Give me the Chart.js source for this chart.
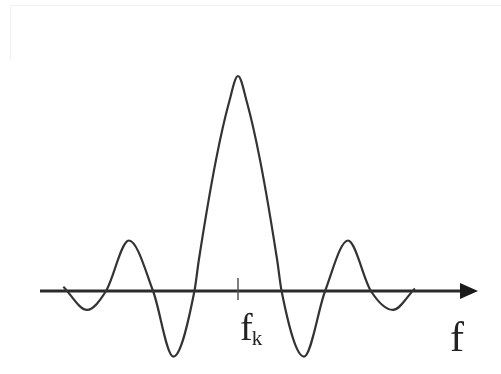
<!DOCTYPE html>
<html>
<head>
<meta charset="utf-8">
<style>
  html, body { margin: 0; padding: 0; background: #fff; }
  #wrap { width: 501px; height: 374px; position: relative; }
</style>
<script src="https://cdn.jsdelivr.net/npm/chart.js@4.4.1/dist/chart.umd.min.js"></script>
</head>
<body>
<div id="wrap"><canvas id="spectrum"></canvas></div>
<script>
// frequency offsets from f_k (in main-lobe half widths) and amplitude
const freqOffsets = [-3.97, -3.43, -3.0, -2.48, -1.93, -1.47, -0.99, -0.89, -0.5, -0.2, 0,
                     0.2, 0.5, 0.89, 0.99, 1.5, 1.98, 2.5, 3.02, 3.52, 4.02];
const amplitudes  = [0.02, -0.088, 0, 0.235, 0, -0.305, 0, 0.144, 0.61, 0.88, 1.0,
                     0.88, 0.61, 0.144, 0, -0.305, 0, 0.235, 0, -0.088, 0.012];
const centerLabel = 'f';
const centerSub = 'k';
const axisLabel = 'f';

// horizontal axis with arrow head, tick at f_k and labels
const axisPlugin = {
    id: 'axisArrow',
    beforeDatasetsDraw(chart) {
        const { ctx, scales: { x, y } } = chart;
        const y0 = y.getPixelForValue(0);
        const xc = x.getPixelForValue(0);
        ctx.save();
        // faint frame at the top/left
        ctx.strokeStyle = '#f1f1f1';
        ctx.lineWidth = 1;
        ctx.beginPath();
        ctx.moveTo(10.5, 60);
        ctx.lineTo(10.5, 5.5);
        ctx.lineTo(501, 5.5);
        ctx.stroke();

        ctx.strokeStyle = '#2a2a2a';
        ctx.lineWidth = 3;
        ctx.beginPath();
        ctx.moveTo(x.left, y0);
        ctx.lineTo(x.right - 16, y0);
        ctx.stroke();
        ctx.fillStyle = '#1a1a1a';
        ctx.beginPath();
        ctx.moveTo(x.right - 20, y0 - 8);
        ctx.lineTo(x.right - 2, y0);
        ctx.lineTo(x.right - 20, y0 + 8);
        ctx.closePath();
        ctx.fill();
        // tick at f_k
        ctx.strokeStyle = '#555';
        ctx.lineWidth = 1.5;
        ctx.beginPath();
        ctx.moveTo(xc, y0 - 13);
        ctx.lineTo(xc, y0 + 9);
        ctx.stroke();
        ctx.restore();
    },
    afterDraw(chart) {
        const { ctx, scales: { x, y } } = chart;
        const y0 = y.getPixelForValue(0);
        const xc = x.getPixelForValue(0);
        ctx.save();
        ctx.fillStyle = '#222';
        ctx.textBaseline = 'alphabetic';
        ctx.textAlign = 'left';
        ctx.font = '38px "Liberation Serif", "DejaVu Serif", serif';
        ctx.fillText(centerLabel, xc + 2, y0 + 49);
        const w = ctx.measureText(centerLabel).width;
        ctx.font = '21px "Liberation Serif", "DejaVu Serif", serif';
        ctx.fillText(centerSub, xc + 2 + w - 1, y0 + 54);
        ctx.font = '42px "Liberation Serif", "DejaVu Serif", serif';
        ctx.fillText(axisLabel, x.right - 30, y0 + 60);
        ctx.restore();
    }
};

new Chart(document.getElementById('spectrum'), {
    type: 'line',
    data: {
        datasets: [{
            data: freqOffsets.map((f, i) => ({ x: f, y: amplitudes[i] })),
            borderColor: '#333',
            borderWidth: 2.2,
            pointRadius: 0,
            fill: false,
            cubicInterpolationMode: 'monotone',
            clip: false
        }]
    },
    options: {
        responsive: true,
        maintainAspectRatio: false,
        animation: false,
        layout: { padding: { left: 40, right: 21, top: 54.5, bottom: 7.75 } },
        plugins: { legend: { display: false }, tooltip: { enabled: false } },
        scales: {
            x: { type: 'linear', min: -4.5, max: 5.5, display: false },
            y: { min: -0.35, max: 1.1, display: false }
        }
    },
    plugins: [axisPlugin]
});
</script>
</body>
</html>
